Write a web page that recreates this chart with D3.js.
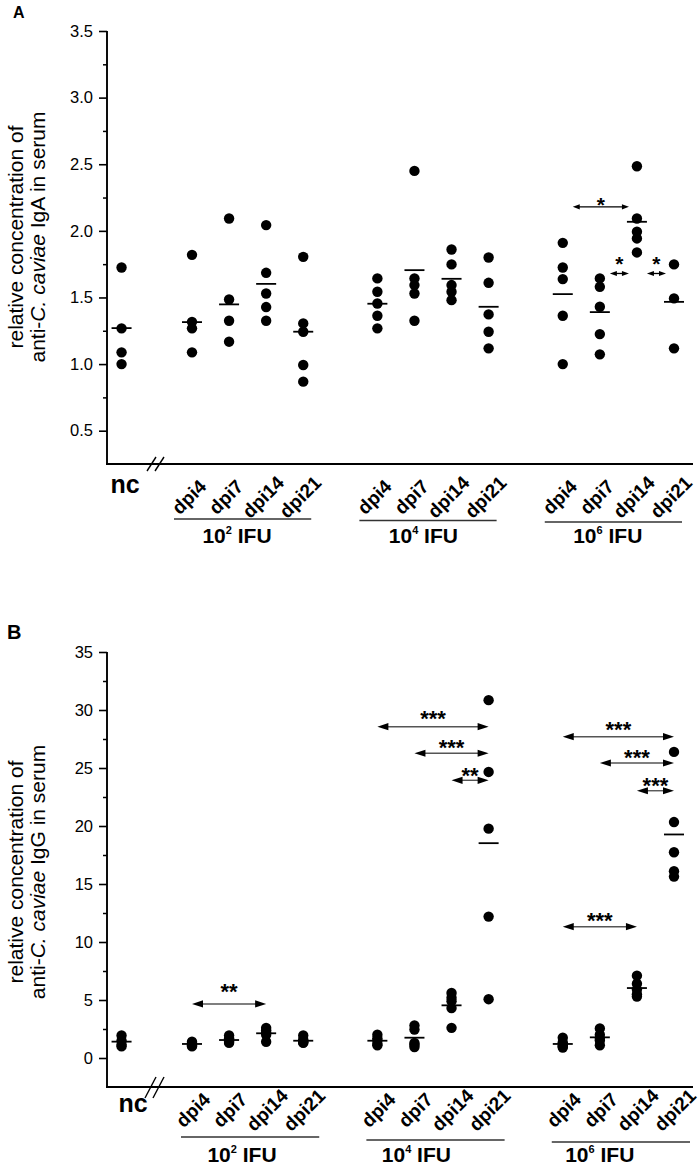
<!DOCTYPE html>
<html><head><meta charset="utf-8">
<script src="https://cdn.jsdelivr.net/npm/d3@7"></script>
<style>
body{margin:0;background:#fff}
svg{display:block}
text{font-family:"Liberation Sans",Arial,Helvetica,sans-serif;fill:#000}
</style>
</head><body>
<svg id="chart" width="700" height="1167"></svg>
<script>
// ---------------- data ----------------
const groups = ["2", "4", "6"];              // exponent of IFU dose (10^x IFU)
const days = ["dpi4", "dpi7", "dpi14", "dpi21"];
const controlLabel = "nc";

// Panel A: IgA
const igaNc = [1.725, 1.268, 1.088, 1.0];
const igaNcMean = 1.27;
const igaValues = [
  [[1.82, 1.317, 1.268, 1.088], [2.093, 1.485, 1.325, 1.168], [2.043, 1.685, 1.53, 1.428, 1.325], [1.805, 1.305, 1.243, 0.993, 0.868]],
  [[1.643, 1.543, 1.455, 1.363, 1.268], [2.45, 1.643, 1.593, 1.53, 1.325], [1.86, 1.748, 1.593, 1.543, 1.48], [1.8, 1.61, 1.373, 1.243, 1.118]],
  [[1.91, 1.725, 1.638, 1.363, 1.0], [1.643, 1.58, 1.43, 1.225, 1.073], [2.485, 2.093, 1.993, 1.943, 1.838], [1.748, 1.493, 1.118]]
];
const igaMeans = [[1.315, 1.448, 1.602, 1.243], [1.453, 1.705, 1.64, 1.43], [1.525, 1.39, 2.068, 1.467]];
const igaTicks = [0.5, 1.0, 1.5, 2.0, 2.5, 3.0, 3.5];
const igaMinorTicks = [0.75, 1.25, 1.75, 2.25, 2.75, 3.25];
const igaSig = [
  {group: 2, from: 0, to: 2, level: 2.18, label: "*"},
  {group: 2, from: 1, to: 2, level: 1.68, label: "*"},
  {group: 2, from: 2, to: 3, level: 1.68, label: "*"}
];

// Panel B: IgG
const iggNc = [1.95, 1.5, 1.15, 1.0];
const iggNcMean = 1.41;
const iggValues = [
  [[1.4, 1.3, 1.2, 1.1, 1.0], [1.95, 1.7, 1.5, 1.4, 1.3], [2.6, 2.4, 2.2, 2.0, 1.4], [1.95, 1.6, 1.45, 1.35, 1.3]],
  [[2.0, 1.7, 1.5, 1.2, 1.1], [2.8, 2.45, 1.3, 1.15, 0.95], [5.6, 5.2, 4.9, 4.3, 2.6], [30.85, 24.66, 19.77, 12.19, 5.07]],
  [[1.75, 1.35, 1.1, 1.0, 0.9], [2.55, 2.0, 1.65, 1.5, 1.1], [7.1, 6.4, 5.9, 5.5, 5.3], [26.39, 20.34, 17.74, 16.1, 15.64]]
];
const iggMeans = [[1.21, 1.55, 2.13, 1.49], [1.49, 1.75, 4.54, 18.52], [1.21, 1.78, 6.03, 19.27]];
const iggTicks = [0, 5, 10, 15, 20, 25, 30, 35];
const iggMinorTicks = [2.5, 7.5, 12.5, 17.5, 22.5, 27.5, 32.5];
const iggSig = [
  {group: 0, from: 0, to: 2, level: 4.66, label: "**"},
  {group: 1, from: 0, to: 3, level: 28.56, label: "***"},
  {group: 1, from: 1, to: 3, level: 26.27, label: "***"},
  {group: 1, from: 2, to: 3, level: 23.94, label: "**"},
  {group: 2, from: 0, to: 3, level: 27.7, label: "***"},
  {group: 2, from: 1, to: 3, level: 25.43, label: "***"},
  {group: 2, from: 2, to: 3, level: 23.04, label: "***"},
  {group: 2, from: 0, to: 2, level: 11.32, label: "***"}
];

// ---------------- layout ----------------
const svg = d3.select("#chart");
const FONT = '"Liberation Sans",Arial,Helvetica,sans-serif';
const slotIndex = (g, d) => g * 5 + d;
const ncIndex = -1.9;
const x = d3.scaleLinear().domain([0, 13]).range([192, 674]);
const axisLeftX = 107, axisRightX = 693;

const panels = [
  {
    letter: "A", letterX: 13, letterY: 18, letterSize: 16,
    y: d3.scaleLinear().domain([0.25, 3.5]).range([464, 31]),
    ticks: igaTicks, minor: igaMinorTicks, fmt: d3.format(".1f"),
    nc: igaNc, ncMean: igaNcMean, values: igaValues, means: igaMeans, sig: igaSig,
    isotype: "IgA", titleY: 237,
    ncX: 125, ncY: 493, dayDX: -3, dayY: 497,
    grpLineY: [519, 520.5, 522], grpLinePad: [-18, 8], grpTextDX: [45, 46, 45], grpTextY: 543,
    arrow: {padStart: 10, padEnd: 8, head: 7, half: 2.6, color: "#000", width: 1.3, fs: 21},
    lift: [7, 15, 15],
    brk: [[147, 471, 156, 457], [155, 471, 164, 457]]
  },
  {
    letter: "B", letterX: 7, letterY: 639, letterSize: 20,
    y: d3.scaleLinear().domain([-2.5, 35]).range([1087, 652]),
    ticks: iggTicks, minor: iggMinorTicks, fmt: d3.format("d"),
    nc: iggNc, ncMean: iggNcMean, values: iggValues, means: iggMeans, sig: iggSig,
    isotype: "IgG", titleY: 872,
    ncX: 133, ncY: 1112, dayDX: 1, dayY: 1110,
    grpLineY: [1137, 1140, 1142], grpLinePad: [-11, 16], grpTextDX: [50, 39, 37], grpTextY: 1162,
    arrow: {padStart: 0, padEnd: 0, head: 11, half: 3.6, color: "#555", width: 1.4, fs: 22},
    lift: [18, 13, 11, 10, 12, 11, 10, 11],
    brk: [[145, 1098, 156, 1077], [153, 1098, 164, 1077]]
  }
];

panels.forEach(p => {
  const g = svg.append("g");
  const y = p.y;
  const [y0, y1] = y.range();

  // panel letter
  g.append("text").attr("x", p.letterX).attr("y", p.letterY)
    .attr("font-size", p.letterSize).attr("font-weight", "bold").text(p.letter);

  // y-axis title (two lines)
  g.append("text").attr("transform", `translate(23,${p.titleY}) rotate(-90)`)
    .attr("text-anchor", "middle").attr("font-size", 21).text("relative concentration of");
  const t2 = g.append("text").attr("transform", `translate(45,${p.titleY}) rotate(-90)`)
    .attr("text-anchor", "middle").attr("font-size", 21);
  t2.append("tspan").text("anti-");
  t2.append("tspan").attr("font-style", "italic").text("C. caviae");
  t2.append("tspan").text(" " + p.isotype + " in serum");

  // y axis major ticks
  const ax = g.append("g").attr("transform", `translate(${axisLeftX},0)`)
    .call(d3.axisLeft(y).tickValues(p.ticks).tickSize(8).tickPadding(6).tickFormat(p.fmt));
  ax.select(".domain").remove();
  ax.selectAll(".tick line").attr("stroke", "#000").attr("stroke-width", 1.6);
  ax.selectAll(".tick text").attr("font-size", 16.5).attr("font-family", FONT).attr("fill", "#000");
  // minor ticks
  const axm = g.append("g").attr("transform", `translate(${axisLeftX},0)`)
    .call(d3.axisLeft(y).tickValues(p.minor).tickSize(4).tickFormat(""));
  axm.select(".domain").remove();
  axm.selectAll(".tick line").attr("stroke", "#000").attr("stroke-width", 1.5);

  // axis lines
  g.append("line").attr("x1", axisLeftX).attr("x2", axisLeftX).attr("y1", y1).attr("y2", y0)
    .attr("stroke", "#000").attr("stroke-width", 1.9);
  g.append("line").attr("x1", axisLeftX - 1).attr("x2", axisRightX).attr("y1", y0).attr("y2", y0)
    .attr("stroke", "#000").attr("stroke-width", 1.9);

  // axis break
  p.brk.forEach(b => g.append("line").attr("x1", b[0]).attr("y1", b[1]).attr("x2", b[2]).attr("y2", b[3])
    .attr("stroke", "#000").attr("stroke-width", 1.4));

  // points
  const pts = [];
  p.nc.forEach(v => pts.push({xi: ncIndex, v}));
  p.values.forEach((grp, gi) => grp.forEach((arr, di) => arr.forEach(v => pts.push({xi: slotIndex(gi, di), v}))));
  g.append("g").selectAll("circle").data(pts).join("circle")
    .attr("cx", d => x(d.xi)).attr("cy", d => y(d.v)).attr("r", 5.2).attr("fill", "#000");

  // mean lines
  const ms = [{xi: ncIndex, v: p.ncMean}];
  p.means.forEach((grp, gi) => grp.forEach((v, di) => ms.push({xi: slotIndex(gi, di), v})));
  g.append("g").selectAll("line").data(ms).join("line")
    .attr("x1", d => x(d.xi) - 10).attr("x2", d => x(d.xi) + 10)
    .attr("y1", d => y(d.v)).attr("y2", d => y(d.v))
    .attr("stroke", "#000").attr("stroke-width", 1.8);

  // significance arrows
  const a = p.arrow;
  p.sig.forEach((s, i) => {
    const xa = x(slotIndex(s.group, s.from)) + a.padStart;
    const xb = x(slotIndex(s.group, s.to)) - a.padEnd;
    const yy = y(s.level);
    g.append("line").attr("x1", xa + a.head - 1).attr("x2", xb - a.head + 1).attr("y1", yy).attr("y2", yy)
      .attr("stroke", a.color).attr("stroke-width", a.width);
    g.append("path").attr("d", `M${xa},${yy}L${xa + a.head},${yy - a.half}L${xa + a.head},${yy + a.half}Z`).attr("fill", "#000");
    g.append("path").attr("d", `M${xb},${yy}L${xb - a.head},${yy - a.half}L${xb - a.head},${yy + a.half}Z`).attr("fill", "#000");
    g.append("text").attr("x", (xa + xb) / 2).attr("y", yy - p.lift[i] + 0.58 * a.fs)
      .attr("text-anchor", "middle").attr("font-size", a.fs).attr("font-weight", "bold").text(s.label);
  });

  // x labels
  g.append("text").attr("x", p.ncX).attr("y", p.ncY).attr("text-anchor", "middle")
    .attr("font-size", 25).attr("font-weight", "bold").text(controlLabel);
  groups.forEach((gname, gi) => {
    days.forEach((dname, di) => {
      const cx = x(slotIndex(gi, di)) + p.dayDX;
      g.append("text").attr("transform", `translate(${cx},${p.dayY}) rotate(-45)`)
        .attr("text-anchor", "middle").attr("dominant-baseline", "central")
        .attr("font-size", 19).attr("font-weight", "bold").text(dname);
    });
    const xs = x(slotIndex(gi, 0)) + p.grpLinePad[0];
    const xe = x(slotIndex(gi, 3)) + p.grpLinePad[1];
    g.append("line").attr("x1", xs).attr("x2", xe).attr("y1", p.grpLineY[gi]).attr("y2", p.grpLineY[gi])
      .attr("stroke", "#333").attr("stroke-width", 1.3);
    const gt = g.append("text").attr("x", x(slotIndex(gi, 0)) + p.grpTextDX[gi]).attr("y", p.grpTextY)
      .attr("text-anchor", "middle").attr("font-size", 21).attr("font-weight", "bold");
    gt.append("tspan").text("10");
    gt.append("tspan").attr("font-size", 11).attr("dy", -9).text(gname);
    gt.append("tspan").attr("dy", 9).text(" IFU");
  });
});
</script>
</body></html>
